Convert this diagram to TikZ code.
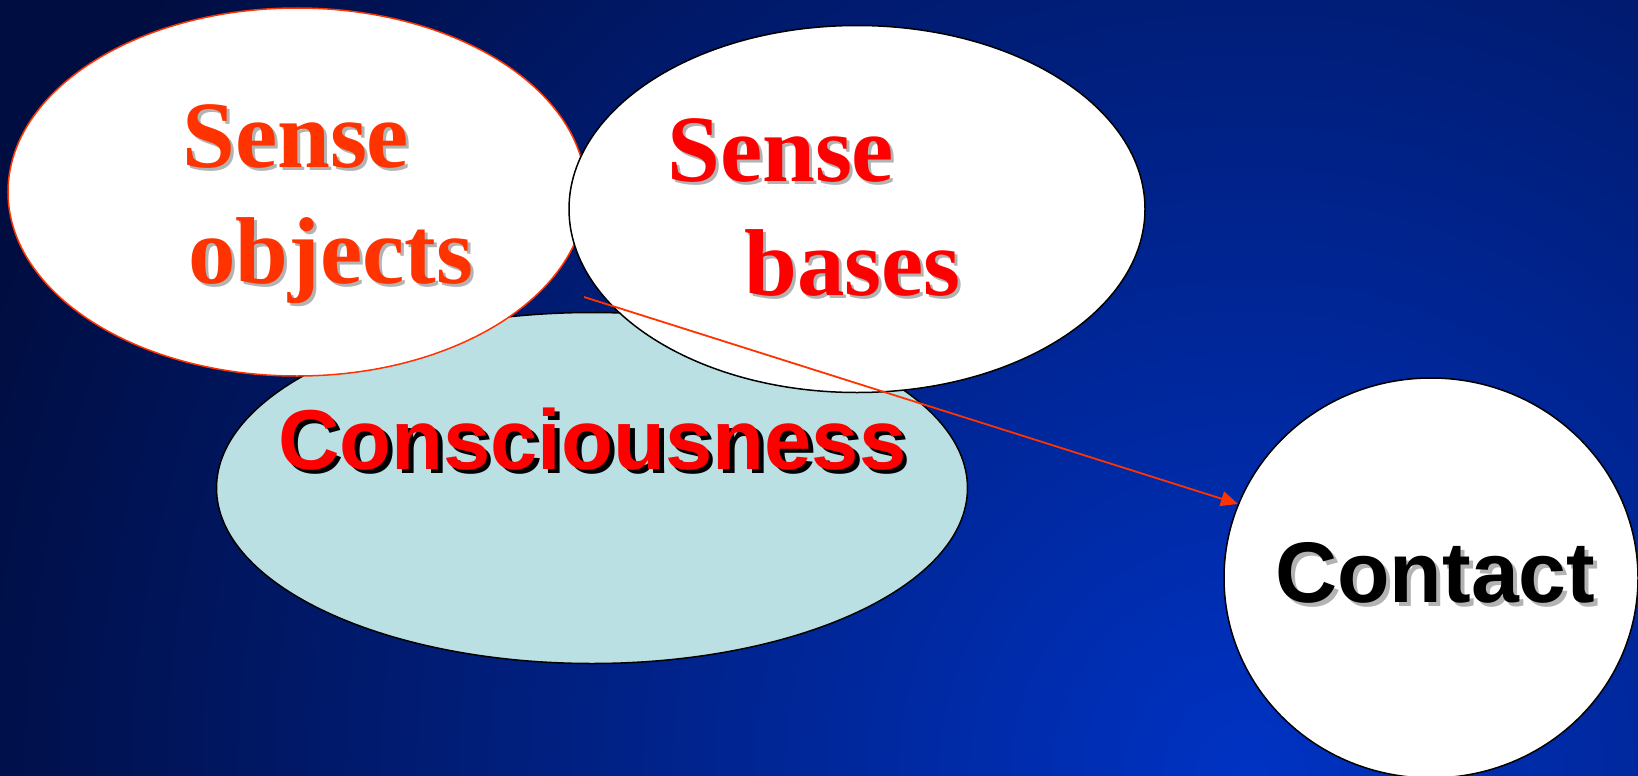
\documentclass[tikz,border=0pt]{standalone}
\usepackage{fontspec}
\usetikzlibrary{shapes.geometric, arrows.meta}
\usepackage{xcolor}

\newfontfamily\serifhead{Liberation Serif}
\newfontfamily\sanshead{Liberation Sans}

\definecolor{bgdark}{HTML}{000D40}
\definecolor{bgbright}{HTML}{0033C4}
\definecolor{flame}{HTML}{FF3300}
\definecolor{pale}{HTML}{BAE0E3}
\definecolor{shadowgray}{HTML}{B3B3B3}

% word with a drop shadow: offset, shadow colour, text colour, text
\newcommand{\dropshadow}[4]{\rlap{\kern#1\raisebox{-#1}{\color{#2}#4}}{\color{#3}#4}}

\begin{document}
\begin{tikzpicture}[
    x=1pt, y=-1pt,
    blob/.style={ellipse, draw=black, fill=white, line width=1.5pt, inner sep=0pt},
    serifword/.style={anchor=base west, inner sep=0pt, font=\serifhead\bfseries\fontsize{95}{114}\selectfont},
    sansword/.style={anchor=base west, inner sep=0pt, font=\sanshead\bfseries\fontsize{85}{100}\selectfont},
    arr/.style={-{Triangle[length=17pt, width=15pt]}, line width=1.8pt, draw=flame}
]
    \useasboundingbox (0,0) rectangle (1638,776);
    \begin{scope}
        \clip (0,0) rectangle (1638,776);
        \fill[bgdark] (0,0) rectangle (1638,776);
        \shade[inner color=bgbright, outer color=bgdark] (1250,776) circle (1350pt);
    \end{scope}

    \node[blob, fill=pale, minimum width=751pt, minimum height=351pt] (mind) at (592,488) {};
    \node[blob, draw=flame, minimum width=578pt, minimum height=368pt] (objects) at (297,192) {};
    \node[blob, minimum width=576pt, minimum height=367pt] (bases) at (857,209) {};
    \node[blob, minimum width=414pt, minimum height=400pt] (contact) at (1431,578) {};

    \node[serifword] (objtop) at (182,167) {\dropshadow{3pt}{shadowgray}{flame}{Sense}};
    \node[serifword] (objbot) at (188,283) {\dropshadow{3pt}{shadowgray}{flame}{objects}};
    \node[serifword] (bastop) at (667,181) {\dropshadow{3pt}{shadowgray}{red}{Sense}};
    \node[serifword] (basbot) at (744,295) {\dropshadow{3pt}{shadowgray}{red}{bases}};
    \node[sansword] (mindtxt) at (278,469) {\dropshadow{4.5pt}{black}{red}{Consciousness}};
    \node[sansword, font=\sanshead\bfseries\fontsize{86}{100}\selectfont] (contxt) at (1275,602) {\dropshadow{4pt}{shadowgray}{black}{Contact}};

    \coordinate (spark) at (584,297);
    \draw[arr] (spark) -- (contact.159);
\end{tikzpicture}
\end{document}
